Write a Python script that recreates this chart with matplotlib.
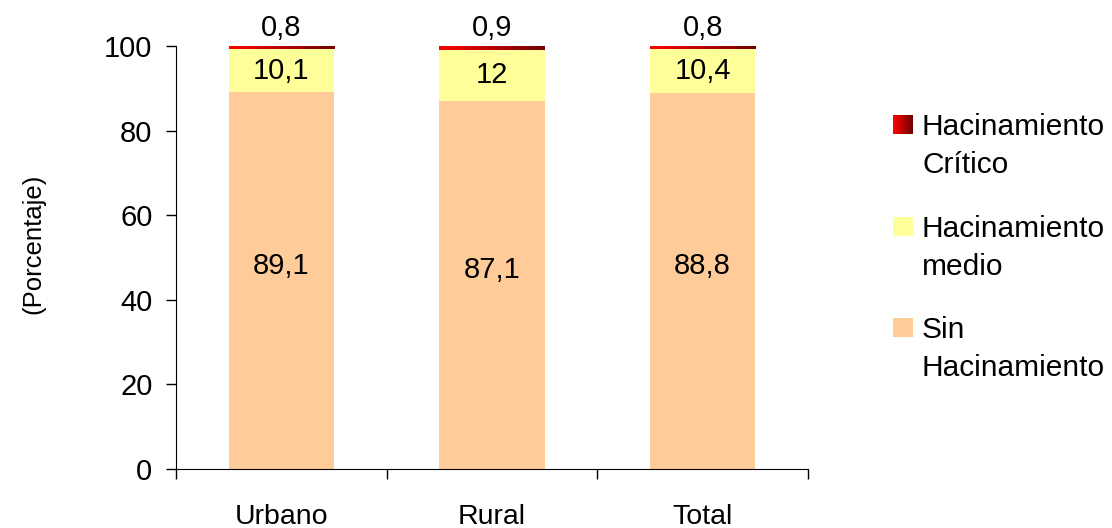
import matplotlib
matplotlib.use('Agg')
import matplotlib.pyplot as plt
import numpy as np
from matplotlib.patches import Rectangle
from matplotlib.colors import LinearSegmentedColormap

plt.rcParams['font.family'] = ['Liberation Sans', 'DejaVu Sans']

categories = ['Urbano', 'Rural', 'Total']
sin_hacinamiento = [89.1, 87.1, 88.8]
hacinamiento_medio = [10.1, 12, 10.4]
hacinamiento_critico = [0.8, 0.9, 0.8]
labels_sin = ['89,1', '87,1', '88,8']
labels_medio = ['10,1', '12', '10,4']
labels_critico = ['0,8', '0,9', '0,8']
legend_names = ['Hacinamiento\nCrítico', 'Hacinamiento\nmedio', 'Sin\nHacinamiento']

c_sin = '#FFCC99'
c_medio = '#FFFF99'
red_grad = LinearSegmentedColormap.from_list('rg', ['#FF0000', '#6E0000'])
grad = np.linspace(0, 1, 64).reshape(1, -1)

W, H = 1112, 528
fig = plt.figure(figsize=(W / 100, H / 100), dpi=100)
ax = fig.add_axes([176 / W, 1 - 469 / H, 632 / W, 423 / H])

x = np.arange(len(categories))
w = 0.5
sin = np.array(sin_hacinamiento)
med = np.array(hacinamiento_medio)
crit = np.array(hacinamiento_critico)

ax.bar(x, sin, w, color=c_sin, linewidth=0)
ax.bar(x, med, w, bottom=sin, color=c_medio, linewidth=0)
crit_bars = ax.bar(x, crit, w, bottom=sin + med, color='#CC0000', linewidth=0)

# gradient fill for the thin "critico" segment
for b in crit_bars:
    x0, y0 = b.get_x(), b.get_y()
    im = ax.imshow(grad, cmap=red_grad, aspect='auto', interpolation='bilinear',
                   extent=(x0, x0 + b.get_width(), y0, y0 + b.get_height()), zorder=2)
    im.set_clip_path(b)

fs = 21
for i in range(len(x)):
    # Excel puts the big labels a little above the segment middle
    ax.text(x[i], sin[i] / 2 + 3.5, labels_sin[i], ha='center', va='center', fontsize=fs)
    ax.text(x[i], sin[i] + med[i] / 2, labels_medio[i], ha='center', va='center', fontsize=fs)
    ax.text(x[i], 102.4, labels_critico[i], ha='center', va='baseline', fontsize=fs)

ax.set_xlim(-0.5, 2.5)
ax.set_ylim(0, 100)
ax.set_yticks([0, 20, 40, 60, 80, 100])
ax.tick_params(axis='y', labelsize=fs, direction='out', length=7, width=1, pad=10)
ax.set_xticks([-0.5, 0.5, 1.5, 2.5])
ax.set_xticklabels([])
ax.set_xticks(x, minor=True)
ax.set_xticklabels(categories, minor=True, fontsize=fs - 0.5)
ax.tick_params(axis='x', which='major', direction='out', length=7, width=1)
ax.tick_params(axis='x', which='minor', length=0, pad=25)

for s in ['top', 'right']:
    ax.spines[s].set_visible(False)

fig.text(33 / W, 1 - 244 / H, '(Porcentaje)', rotation=90, ha='center', va='center',
         fontsize=18.5)

# legend drawn by hand so the marker sits on the first text line
legend_colors = ['grad', c_medio, c_sin]
tops = [115, 217, 318]
for name, col, top in zip(legend_names, legend_colors, tops):
    if col == 'grad':
        lax = fig.add_axes([893 / W, 1 - (top + 19) / H, 20 / W, 19 / H])
        lax.imshow(grad, cmap=red_grad, aspect='auto', interpolation='bilinear')
        lax.axis('off')
    else:
        fig.patches.append(Rectangle((893 / W, 1 - (top + 19) / H), 20 / W, 19 / H,
                                     transform=fig.transFigure, facecolor=col,
                                     linewidth=0))
    for k, line in enumerate(name.split('\n')):
        fig.text(922 / W, 1 - (top + 20 + 38 * k) / H, line, ha='left',
                 va='baseline', fontsize=21.5)

fig.savefig('out.png', dpi=100)
